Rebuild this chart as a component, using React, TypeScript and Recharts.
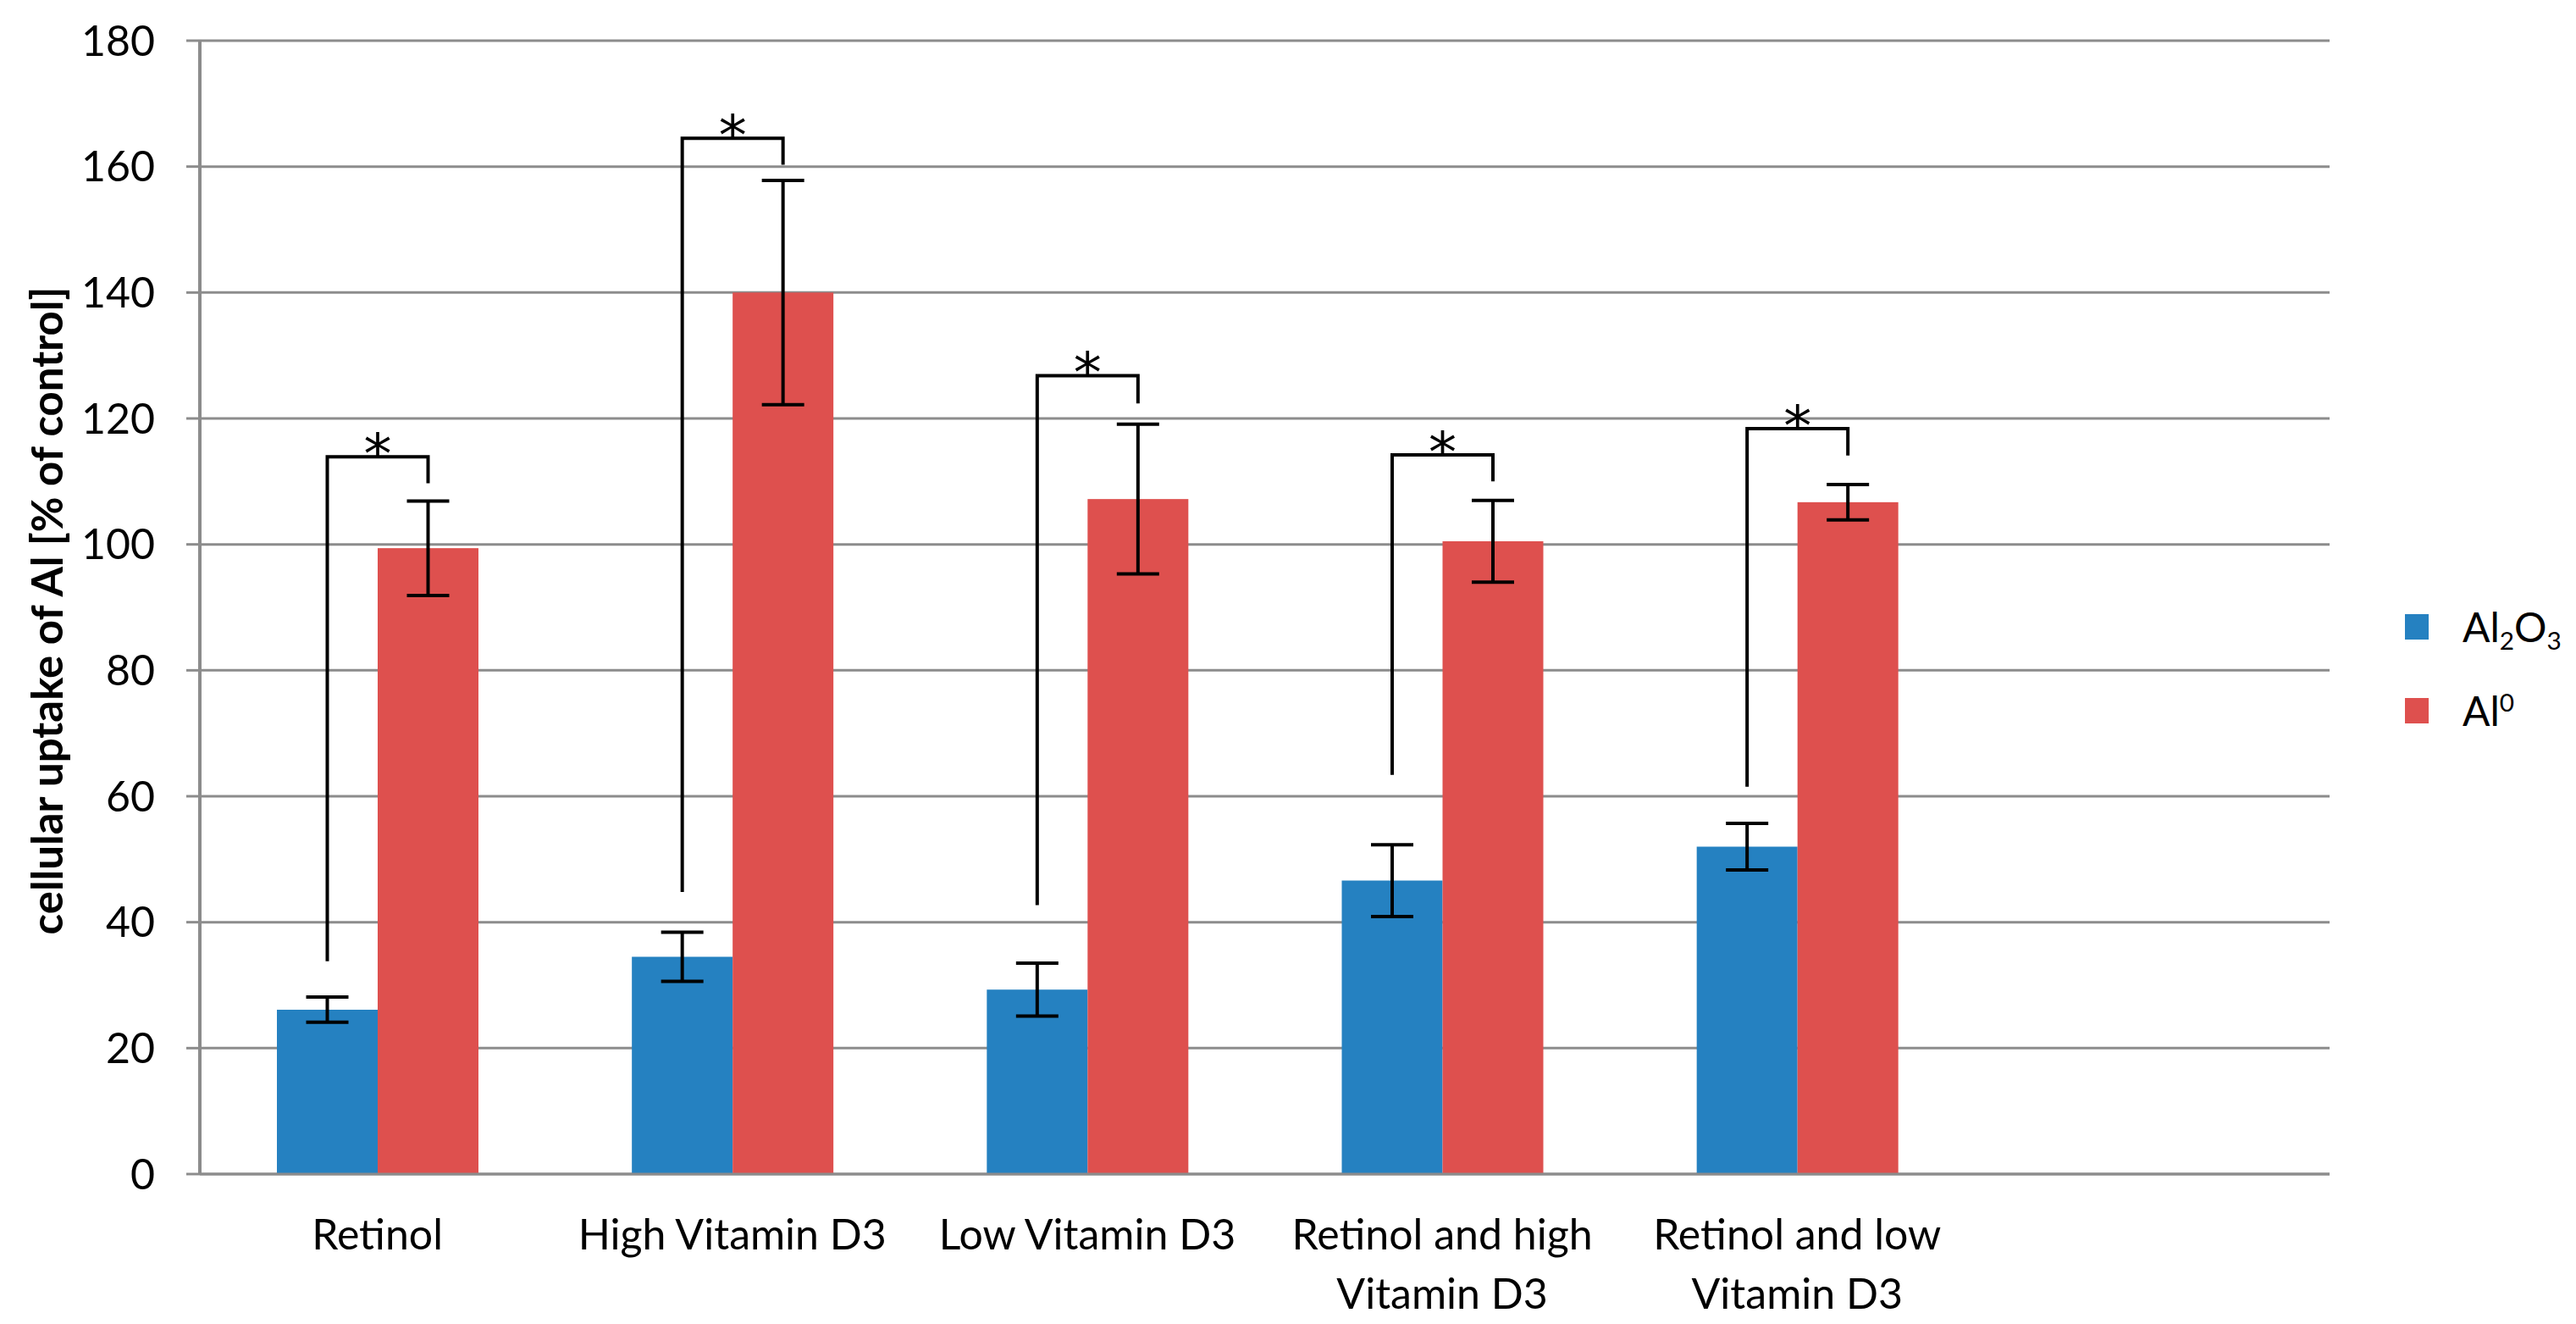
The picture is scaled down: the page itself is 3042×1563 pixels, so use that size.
import React from 'react';
import {
  BarChart,
  Bar,
  XAxis,
  YAxis,
  CartesianGrid,
  Legend,
  ErrorBar,
} from 'recharts';

const categories = [
  'Retinol',
  'High Vitamin D3',
  'Low Vitamin D3',
  'Retinol and high\nVitamin D3',
  'Retinol and low\nVitamin D3',
  '',
];
const al2o3 = [26.1, 34.5, 29.3, 46.6, 52.0, null];
const al2o3Err = [2.0, 3.9, 4.2, 5.7, 3.7, null];
const al0 = [99.4, 140.0, 107.2, 100.5, 106.7, null];
const al0Err = [7.5, 17.8, 11.9, 6.5, 2.8, null];
// significance brackets: left leg start, bracket top, right leg end
const bracketStart = [33.8, 44.8, 42.7, 63.4, 61.5, null];
const bracketTop = [113.9, 164.5, 126.8, 114.2, 118.4, null];
const bracketEnd = [109.7, 160.3, 122.4, 110.0, 114.1, null];
const yTicks = [0, 20, 40, 60, 80, 100, 120, 140, 160, 180];

const BLUE = '#2581C1';
const RED = '#DE504E';
const GRID = '#8C8C8C';
const FONT = 'Lato, "Open Sans", sans-serif';

const data = categories.map((name, i) => ({
  name,
  al2o3: al2o3[i],
  al2o3Err: al2o3Err[i],
  al0: al0[i],
  al0Err: al0Err[i],
  bStart: bracketStart[i],
  bTop: bracketTop[i],
  bEnd: bracketEnd[i],
}));

const CategoryTick = (props: any) => {
  const { x, y, payload } = props;
  const lines = String(payload.value).split('\n');
  return (
    <text x={x} y={y} textAnchor="middle" fontFamily={FONT} fontSize={50} fill="#000">
      {lines.map((line: string, i: number) => (
        <tspan key={i} x={x} dy={i === 0 ? 87 : 70}>
          {line}
        </tspan>
      ))}
    </text>
  );
};

// red bar plus the significance bracket drawn from the bar's own scale
const Al0Shape = (props: any) => {
  const { x, y, width, height, fill, payload } = props;
  if (payload.al0 == null || !height) return null;
  const ppu = height / payload.al0;
  const base = y + height;
  const toY = (v: number) => base - v * ppu;
  const left = x - width / 2;
  const right = x + width / 2;
  const top = toY(payload.bTop);
  return (
    <g>
      <rect x={x} y={y} width={width} height={height} fill={fill} />
      <path
        d={`M${left},${toY(payload.bStart)} L${left},${top} L${right},${top} L${right},${toY(payload.bEnd)}`}
        fill="none"
        stroke="#000"
        strokeWidth={4}
      />
      <text
        x={x}
        y={top + 20}
        textAnchor="middle"
        fontFamily='"DejaVu Sans", sans-serif'
        fontSize={66}
        fill="#000"
      >
        *
      </text>
    </g>
  );
};

const YLabel = (props: any) => {
  const vb = props.viewBox || {};
  const cx = 54;
  const cy = (vb.y || 0) + (vb.height || 0) / 2 + 4;
  return (
    <text
      x={cx}
      y={cy}
      transform={`rotate(-90, ${cx}, ${cy})`}
      textAnchor="middle"
      dominantBaseline="central"
      fontFamily={FONT}
      fontWeight="bold"
      fontSize={51}
      fill="#000"
    >
      cellular uptake of Al [% of control]
    </text>
  );
};

const sub = { fontSize: '0.62em', position: 'relative' as const, top: '0.32em' };
const sup = { fontSize: '0.62em', position: 'relative' as const, top: '-0.55em' };

const legendLabels = [
  <span key="a">
    Al<span style={sub}>2</span>O<span style={sub}>3</span>
  </span>,
  <span key="b">
    Al<span style={sup}>0</span>
  </span>,
];
const legendColors = [BLUE, RED];

const renderLegend = () => (
  <div style={{ fontFamily: FONT, fontSize: 48, lineHeight: 1, color: '#000' }}>
    {legendLabels.map((label, i) => (
      <div key={i} style={{ display: 'flex', alignItems: 'center', height: 99 }}>
        <div style={{ width: 28, height: 30, background: legendColors[i], marginRight: 40 }} />
        {label}
      </div>
    ))}
  </div>
);

const App = () => {
  return (
    <div style={{ width: 3042, height: 1563, background: '#fff' }}>
      <style>{'body{margin:0;}'}</style>
      <BarChart
        width={3042}
        height={1563}
        data={data}
        barSize={119}
        barGap={0}
        margin={{ top: 48, right: 291, left: 0, bottom: 57 }}
      >
        <CartesianGrid vertical={false} stroke={GRID} strokeWidth={3} />
        <XAxis
          dataKey="name"
          tick={<CategoryTick />}
          tickLine={false}
          tickSize={0}
          axisLine={{ stroke: GRID, strokeWidth: 3 }}
          height={120}
          interval={0}
        />
        <YAxis
          domain={[0, 180]}
          ticks={yTicks}
          interval={0}
          width={236}
          tickSize={16}
          tickMargin={37}
          tick={{ fill: '#000', fontSize: 50, fontFamily: FONT }}
          tickLine={{ stroke: GRID, strokeWidth: 3 }}
          axisLine={{ stroke: GRID, strokeWidth: 4 }}
          label={<YLabel />}
        />
        <Legend
          layout="vertical"
          align="center"
          verticalAlign="middle"
          content={renderLegend}
          wrapperStyle={{ left: 2840, top: 690, width: 200 }}
        />
        <Bar dataKey="al2o3" fill={BLUE} isAnimationActive={false}>
          <ErrorBar dataKey="al2o3Err" width={25} stroke="#000" strokeWidth={4} direction="y" />
        </Bar>
        <Bar dataKey="al0" fill={RED} shape={<Al0Shape />} isAnimationActive={false}>
          <ErrorBar dataKey="al0Err" width={25} stroke="#000" strokeWidth={4} direction="y" />
        </Bar>
      </BarChart>
    </div>
  );
};

export default App;
